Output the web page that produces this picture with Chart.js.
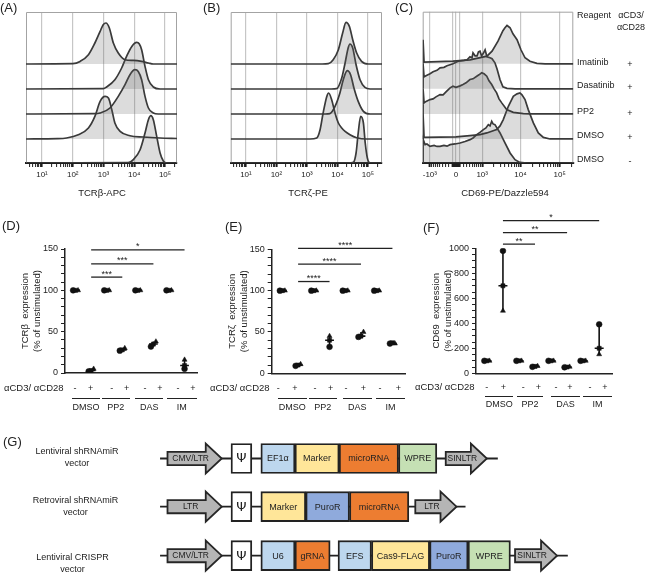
<!DOCTYPE html>
<html>
<head>
<meta charset="utf-8">
<title>TCR expression figure</title>
<script src="https://cdn.jsdelivr.net/npm/chart.js@4.4.1/dist/chart.umd.min.js"></script>
<style>
  body { margin: 0; background: #fff; }
  #fig { position: relative; width: 650px; height: 583px; overflow: hidden;
         font-family: Arial, "Liberation Sans", sans-serif; color: #222; }
  #fig canvas { position: absolute; }
  .lbl { position: absolute; white-space: nowrap; line-height: 1; }
  .rule { position: absolute; height: 0; border-top: 1.3px solid #222; }
</style>
</head>
<body>
<div id="fig">
  <canvas id="histA" width="172" height="198" style="left:14px;top:0"></canvas>
  <canvas id="histB" width="170" height="198" style="left:220px;top:0"></canvas>
  <canvas id="histC" width="165" height="198" style="left:415px;top:0"></canvas>
  <canvas id="dotD" width="206" height="170" style="left:0;top:215px"></canvas>
  <canvas id="dotE" width="206" height="170" style="left:206px;top:215px"></canvas>
  <canvas id="dotF" width="210" height="185" style="left:412px;top:200px"></canvas>
  <canvas id="vectors" width="650" height="158" style="left:0;top:425px"></canvas>
</div>
<script>
// ---------------- histogram data ----------------
// rows from top: Imatinib, Dasatinib, PP2, DMSO (+), DMSO (-)
const histLabels = ["Imatinib", "Dasatinib", "PP2", "DMSO", "DMSO"];
const histStim = ["+", "+", "+", "+", "-"];
const histBaselines = [99, 74, 49, 24, 0];

// TCRb-APC, x = log10 intensity, y = height
const apcImatinib = [[0.48,0],[2.0,0.3],[2.24,2.6],[2.51,9.3],[2.72,21],[2.89,32.6],[2.99,39.3],[3.08,41],[3.19,36],[3.32,21],[3.48,11],[3.7,4.3],[3.97,3.6],[4.24,2.6],[4.46,1],[4.62,0],[5.39,0]];
const apcDasatinib = [[0.48,0],[3.0,0.3],[3.1,2],[3.37,9.3],[3.59,21],[3.75,32.6],[3.92,42.6],[4.08,46.6],[4.16,45.3],[4.24,39.3],[4.35,22.6],[4.46,9.3],[4.62,2],[4.84,0],[5.39,0]];
const apcPP2 = [[0.48,0],[2.7,0.3],[2.89,1],[3.21,6],[3.48,17.6],[3.7,29.3],[3.86,39.3],[4.02,44.3],[4.13,42.6],[4.24,34.3],[4.35,17.6],[4.46,6],[4.62,1],[4.78,0],[5.39,0]];
const apcDmsoStim = [[0.48,0],[1.5,0.3],[1.8,1],[2.18,4.3],[2.51,11],[2.72,22.6],[2.89,37.6],[3.05,42.6],[3.16,41],[3.27,29.3],[3.37,16],[3.54,7.6],[3.86,3.3],[4.29,2],[4.84,1],[5.39,0.5]];
const apcDmsoRest = [[0.48,0],[3.8,0.3],[3.97,3.3],[4.19,13.3],[4.35,30],[4.46,43.3],[4.54,47.3],[4.62,43.3],[4.73,26.6],[4.84,10],[4.95,1.7],[5.06,0],[5.39,0]];

// TCRz-PE
const peImatinib = [[0.5,0],[3.5,0],[3.7,0.3],[3.86,4.3],[4.03,14.3],[4.17,31],[4.28,41.6],[4.39,37.6],[4.5,24.3],[4.63,11],[4.79,2.6],[5.01,0],[5.46,0]];
const peDasatinib = [[0.5,0],[3.8,0],[3.97,0.3],[4.14,11],[4.25,26],[4.35,41],[4.41,45],[4.5,41],[4.61,24.3],[4.74,9.3],[4.9,1.6],[5.07,0],[5.46,0]];
const pePP2 = [[0.5,0],[3.6,0],[3.75,0.3],[3.92,7.6],[4.08,21],[4.19,34.3],[4.32,43.3],[4.43,39.3],[4.54,26],[4.68,12.6],[4.85,2.6],[5.07,0],[5.46,0]];
const peDmsoStim = [[0.5,0],[3.1,0],[3.32,1],[3.43,9.3],[3.53,26],[3.65,42.6],[3.71,46],[3.81,39.3],[3.92,26],[4.03,16],[4.14,11],[4.25,7.6],[4.41,4.3],[4.63,1.3],[4.96,0],[5.46,0]];
const peDmsoRest = [[0.5,0],[4.35,0],[4.52,0.6],[4.61,10],[4.68,30],[4.76,46.6],[4.85,40],[4.91,20],[4.98,5],[5.07,0],[5.46,0]];

// CD69-PE/Dazzle594, x = asinh(intensity / 450)
const cdImatinib = [[-1.94,0],[-1.94,24],[-1.88,1.6],[-0.18,2.6],[0.82,4],[1.82,7.6],[2.12,12.6],[2.47,22.6],[2.76,33],[2.88,36],[3.0,38.3],[3.1,37],[3.18,36],[3.35,30],[3.47,27],[3.59,24],[3.82,14],[4.06,6],[4.35,2.6],[4.76,0.5],[5.24,0],[6.9,0]];
const cdDasatinib = [[-1.94,0],[-1.94,25],[-1.88,12],[-1.71,13.5],[-1.53,15],[-1.35,17],[-1.12,18.5],[-0.94,21],[-0.71,21.5],[-0.53,23],[-0.35,24],[-0.18,25],[0.06,27],[0.24,28],[0.47,28.5],[0.65,29],[0.82,32],[0.94,31],[1.0,36],[1.12,33],[1.24,33],[1.32,37],[1.41,37.6],[1.5,33],[1.59,35],[1.71,39],[1.82,32],[2.0,31],[2.12,30],[2.29,26],[2.41,20],[2.59,9],[2.76,2],[3.0,0.5],[3.47,0],[6.9,0]];
const cdPP2 = [[-1.94,0],[-1.94,25],[-1.88,11],[-1.76,12.5],[-1.53,14.3],[-1.35,15],[-1.18,17],[-0.94,19.3],[-0.76,19],[-0.59,22],[-0.35,26],[-0.18,27.6],[0,26.5],[0.24,28],[0.41,29.3],[0.59,31],[0.82,34.3],[1.0,35],[1.22,37.6],[1.35,39],[1.51,41],[1.65,40],[1.81,37.6],[1.94,33],[2.1,29.3],[2.24,25],[2.39,21],[2.53,15],[2.69,11],[2.98,4.3],[3.37,1.6],[3.96,0.3],[4.35,0],[6.9,0]];
const cdDmsoStim = [[-1.94,0],[-1.94,25],[-1.88,1.6],[-0.94,1.8],[0,2],[0.82,3.3],[1.41,4.3],[1.81,6],[2.06,7.5],[2.39,9.3],[2.59,13],[2.78,19.3],[3.08,32.6],[3.37,42.6],[3.59,45],[3.76,46],[3.88,44],[4.06,39.3],[4.25,29.3],[4.55,16],[4.84,6],[5.14,1.6],[5.53,0],[6.9,0]];
const cdDmsoRest = [[-1.94,0],[-1.94,24],[-1.82,18.3],[-1.71,19],[-1.53,16.6],[-1.29,17.5],[-1.12,16.5],[-0.94,16.6],[-0.71,17.5],[-0.53,16.8],[-0.35,18.3],[-0.06,19],[0.24,20],[0.53,21.5],[0.82,23.3],[1.0,25],[1.22,28.3],[1.41,30.5],[1.61,33.3],[1.76,35],[1.9,38.3],[2.0,37],[2.1,41.6],[2.18,39],[2.29,38.3],[2.59,30],[2.88,20],[3.18,10],[3.47,3.3],[3.76,0.6],[4.16,0],[6.9,0]];

// CD69 axis ticks (raw intensity)
const cdTickValues = [-1000, 0, 1000, 10000, 100000];
const cdTickLabels = ["-10³", "0", "10³", "10⁴", "10⁵"];
const cdGridValues = [-1000, -100, 0, 100, 1000, 10000, 100000];

// ---------------- dot plot data ----------------
const groupNames = ["DMSO", "PP2", "DAS", "IM"];
const stimSigns = ["-", "+"];
// 8 conditions (DMSO-, DMSO+, PP2-, PP2+, DAS-, DAS+, IM-, IM+), 3 replicates each
const tcrbValues = [[100,100,100],[2,3,5],[100,100,100],[27,28,30],[100,100,100],[32,35,38],[100,100,100],[5,9,16]];
const tcrzValues = [[100,100,100],[9,10,11],[100,100,100],[32,40,45],[100,100,100],[44,45,50],[100,100,100],[36,37,36]];
const cd69Values = [[100,100,100],[980,700,500],[100,100,100],[52,55,58],[100,100,100],[48,50,52],[100,100,100],[392,200,152]];
// significance bars: [from condition, to condition, height, label]
const tcrbSig = [[2,4,116,"***"],[2,6,132,"***"],[2,8,149,"*"]];
const tcrzSig = [[2,4,111,"****"],[2,6,132,"****"],[2,8,151,"****"]];
const cd69Sig = [[2,4,1034,"**"],[2,6,1125,"**"],[2,8,1221,"*"]];

// ---------------- vector schematics ----------------
const constructTitles = [["Lentiviral shRNAmiR", "vector"], ["Retroviral shRNAmiR", "vector"], ["Lentiviral CRISPR", "vector"]];
const constructTracks = [0, 55, 111];

const lentiShName = ["CMV/LTR", "Ψ", "EF1α", "Marker", "microRNA", "WPRE", "SINLTR"];
const lentiShKind = ["ltr", "psi", "promoter", "marker", "rna", "wpre", "ltr"];
const lentiShStart = [145, 217.6, 251.7, 290.7, 341.2, 409, 463];
const lentiShEnd = [207, 241.4, 290.7, 341.2, 409, 452.8, 510];
const lentiShSpan = [136.5, 522.5];

const retroShName = ["LTR", "Ψ", "Marker", "PuroR", "microRNA", "LTR"];
const retroShKind = ["ltr", "psi", "marker", "puro", "rna", "ltr"];
const retroShStart = [145, 217.6, 251.7, 303, 353, 428.2];
const retroShEnd = [207, 241.4, 303, 353, 420.8, 475.3];
const retroShSpan = [136.5, 485.6];

const crisprName = ["CMV/LTR", "Ψ", "U6", "gRNA", "EFS", "Cas9-FLAG", "PuroR", "WPRE", "SINLTR"];
const crisprKind = ["ltr", "psi", "promoter", "rna", "promoter", "marker", "puro", "wpre", "ltr"];
const crisprStart = [145, 217.6, 251.7, 290.7, 339.9, 378.1, 444.6, 488.5, 542.2];
const crisprEnd = [207, 241.4, 290.7, 330.9, 378.1, 444.6, 488.5, 536.9, 590.2];
const crisprSpan = [136.5, 602.5];

// ---------------- styling ----------------
Chart.defaults.font.family = 'Arial, "Liberation Sans", sans-serif';
Chart.defaults.color = "#222";
Chart.defaults.animation = false;

const kindColors = { psi: "#ffffff", promoter: "#bdd7ee", marker: "#ffe699", rna: "#ed7d31", wpre: "#c5e0b4", puro: "#8faadc" };
const markerStyles = ["circle", "rect", "triangle"];
const jitter = [-0.16, 0, 0.16];
const sup = ["⁰", "¹", "²", "³", "⁴", "⁵"];

// grey frame on top/left/right of histogram plots
const framePlugin = {
  id: "frame",
  beforeDatasetsDraw(chart, args, opts) {
    if (!opts.color) return;
    const { ctx, chartArea: a } = chart;
    ctx.save();
    ctx.strokeStyle = opts.color;
    ctx.lineWidth = 1;
    ctx.beginPath();
    ctx.moveTo(a.left + 0.5, a.bottom);
    ctx.lineTo(a.left + 0.5, a.top + 0.5);
    ctx.lineTo(a.right - 0.5, a.top + 0.5);
    ctx.lineTo(a.right - 0.5, a.bottom);
    ctx.stroke();
    ctx.restore();
  }
};

// asterisks above significance bars
const starsPlugin = {
  id: "stars",
  afterDatasetsDraw(chart, args, opts) {
    if (!opts.bars) return;
    const { ctx, scales: { x, y } } = chart;
    ctx.save();
    ctx.fillStyle = "#222";
    ctx.font = '9px Arial, "Liberation Sans", sans-serif';
    ctx.textAlign = "center";
    ctx.textBaseline = "alphabetic";
    opts.bars.forEach(b => {
      const cx = (x.getPixelForValue(b[0]) + x.getPixelForValue(b[1])) / 2;
      ctx.fillText(b[3], cx, y.getPixelForValue(b[2]) - 0.5);
    });
    ctx.restore();
  }
};

function logTicks(min, max) {
  const out = [];
  for (let n = 0; n <= 5; n++) {
    if (n >= min && n <= max) out.push(n);
    for (let k = 2; k <= 9; k++) {
      const v = n + Math.log10(k);
      if (v >= min && v <= max) out.push(v);
    }
  }
  return out;
}

function drawHistogram(id, curves, xMin, xMax, tickValues, isGrid, labelFor, smooth, pad) {
  new Chart(document.getElementById(id), {
    type: "line",
    data: {
      datasets: curves.map((curve, i) => ({
        data: curve.map(p => ({ x: p[0], y: p[1] + histBaselines[i] })),
        fill: { value: histBaselines[i] },
        borderColor: "#3a3a3a",
        borderWidth: 1.7,
        backgroundColor: "rgba(95,95,95,0.22)",
        pointRadius: 0,
        cubicInterpolationMode: smooth ? "monotone" : "default",
        tension: 0
      }))
    },
    options: {
      responsive: false,
      layout: { padding: pad },
      plugins: { legend: { display: false }, tooltip: { enabled: false }, frame: { color: "#a3a3a3" } },
      scales: {
        x: {
          type: "linear", min: xMin, max: xMax,
          afterBuildTicks: s => { s.ticks = tickValues.map(v => ({ value: v })); },
          afterFit: s => { s.height = 35; },
          ticks: { autoSkip: false, maxRotation: 0, padding: 3, font: { size: 8 }, color: "#222",
                   callback: v => labelFor(v) },
          grid: {
            color: c => (c.tick && isGrid(c.tick.value)) ? "#c6c6c6" : "rgba(0,0,0,0)",
            lineWidth: 1.2,
            tickColor: "#1e1e1e",
            tickLength: 4,
            tickWidth: c => (c.tick && isGrid(c.tick.value)) ? 2 : 1
          },
          border: { color: "#1e1e1e", width: 2 }
        },
        y: { display: false, min: 0, max: 151 }
      }
    },
    plugins: [framePlugin]
  });
}

function drawDotPlot(id, values, yMax, yStep, labelStep, sigBars, title, axisWidth, titlePad, pad) {
  const medians = values.map(g => [...g].sort((a, b) => a - b)[1]);
  const crowded = g => (Math.max(...g) - Math.min(...g)) / yMax < 0.06;
  const datasets = [];
  markerStyles.forEach((shape, r) => {
    datasets.push({
      type: "scatter",
      data: values.map((g, i) => ({ x: i + 1 + (crowded(g) ? jitter[r] : 0), y: g[r] })),
      pointStyle: shape, pointRadius: 2.9, pointBackgroundColor: "#111", pointBorderColor: "#111",
      pointBorderWidth: 0.5, order: 1
    });
  });
  const medLine = [], rangeLine = [];
  values.forEach((g, i) => {
    medLine.push({ x: i + 0.72, y: medians[i] }, { x: i + 1.28, y: medians[i] }, { x: i + 1, y: null });
    rangeLine.push({ x: i + 1, y: Math.min(...g) }, { x: i + 1, y: Math.max(...g) }, { x: i + 1, y: null });
  });
  [medLine, rangeLine].forEach(d => datasets.push({
    type: "scatter", data: d, showLine: true, spanGaps: false, pointRadius: 0,
    borderColor: "#111", borderWidth: 1.6, order: 2
  }));
  sigBars.forEach(b => datasets.push({
    type: "scatter", data: [{ x: b[0], y: b[2] }, { x: b[1], y: b[2] }], showLine: true,
    pointRadius: 0, borderColor: "#222", borderWidth: 1.3, clip: false, order: 3
  }));
  new Chart(document.getElementById(id), {
    type: "scatter",
    data: { datasets },
    options: {
      responsive: false,
      layout: { padding: pad },
      plugins: { legend: { display: false }, tooltip: { enabled: false }, stars: { bars: sigBars } },
      scales: {
        x: {
          type: "linear", min: 0.32, max: 8.8,
          afterFit: s => { s.height = 0; },
          ticks: { display: false },
          grid: { display: true, drawOnChartArea: false, drawTicks: false },
          border: { color: "#222", width: 1.5 }
        },
        y: {
          min: 0, max: yMax,
          afterFit: s => { s.width = axisWidth; },
          afterBuildTicks: s => {
            const t = [];
            for (let v = 0; v <= yMax; v += yStep) t.push({ value: v });
            s.ticks = t;
          },
          ticks: { autoSkip: false, padding: 3, font: { size: 9 }, color: "#222",
                   callback: v => (v % labelStep === 0 ? String(v) : "") },
          grid: { drawOnChartArea: false, tickLength: 4, tickColor: "#222", tickWidth: 1 },
          border: { color: "#222", width: 1.5 },
          title: { display: true, text: title, color: "#222", font: { size: 9.5, lineHeight: 1.22 },
                   padding: { top: titlePad, bottom: 0 } }
        }
      }
    },
    plugins: [starsPlugin]
  });
}

// ---------------- histograms A, B, C ----------------
const logGrid = v => Math.abs(v - Math.round(v)) < 1e-9;
const logLabel = v => (logGrid(v) && Math.round(v) >= 1 ? "10" + sup[Math.round(v)] : "");

drawHistogram("histA", [apcImatinib, apcDasatinib, apcPP2, apcDmsoStim, apcDmsoRest],
  0.48, 5.39, logTicks(0.48, 5.39), logGrid, logLabel, true, { left: 12, right: 9, top: 12, bottom: 0 });
drawHistogram("histB", [peImatinib, peDasatinib, pePP2, peDmsoStim, peDmsoRest],
  0.5, 5.46, logTicks(0.5, 5.46), logGrid, logLabel, true, { left: 10.7, right: 8, top: 12, bottom: 0 });

const cdT = v => Math.asinh(v / 450);
const cdGridT = cdGridValues.map(cdT);
const cdLabelT = cdTickValues.map(cdT);
const cdMinor = [];
for (let v = -900; v <= -200; v += 100) cdMinor.push(v);
for (let v = -90; v <= 90; v += 10) if (v !== 0) cdMinor.push(v);
for (let v = 200; v <= 900; v += 100) cdMinor.push(v);
for (let v = 2000; v <= 9000; v += 1000) cdMinor.push(v);
for (let v = 20000; v <= 90000; v += 10000) cdMinor.push(v);
cdMinor.push(200000);
const cdTicks = cdGridT.concat(cdMinor.filter(v => cdGridValues.indexOf(v) < 0).map(cdT)).sort((a, b) => a - b);
const near = (list, v) => list.findIndex(g => Math.abs(g - v) < 1e-9);

drawHistogram("histC", [cdImatinib, cdDasatinib, cdPP2, cdDmsoStim, cdDmsoRest],
  -1.96, 6.9, cdTicks, v => near(cdGridT, v) >= 0,
  v => { const i = near(cdLabelT, v); return i >= 0 ? cdTickLabels[i] : ""; },
  false, { left: 7.7, right: 6.7, top: 11.7, bottom: 0 });

// ---------------- dot plots D, E, F ----------------
drawDotPlot("dotD", tcrbValues, 150, 10, 50, tcrbSig, ["TCRβ  expression", "(% of unstimulated)"],
  65, 20, { left: 0, right: 9, top: 34, bottom: 12 });
drawDotPlot("dotE", tcrzValues, 150, 10, 50, tcrzSig, ["TCRζ  expression", "(% of unstimulated)"],
  65.7, 20.8, { left: 0, right: 7, top: 34.3, bottom: 11.7 });
drawDotPlot("dotF", cd69Values, 1000, 50, 200, cd69Sig, ["CD69  expression", "(% of unstimulated)"],
  64, 18.5, { left: 0, right: 10, top: 48.3, bottom: 11.7 });

// ---------------- G: vector maps ----------------
const rows = [
  { name: lentiShName, kind: lentiShKind, start: lentiShStart, end: lentiShEnd, span: lentiShSpan },
  { name: retroShName, kind: retroShKind, start: retroShStart, end: retroShEnd, span: retroShSpan },
  { name: crisprName, kind: crisprKind, start: crisprStart, end: crisprEnd, span: crisprSpan }
];
const boxData = [], boxColors = [], boxLabels = [], arrows = [];
rows.forEach((row, r) => {
  row.name.forEach((n, i) => {
    if (row.kind[i] === "ltr") {
      arrows.push({ label: n, start: row.start[i], end: row.end[i], track: constructTracks[r] });
    } else {
      boxData.push({ x: [row.start[i], row.end[i]], y: constructTracks[r] });
      boxColors.push(kindColors[row.kind[i]]);
      boxLabels.push(n);
    }
  });
});

const vectorPlugin = {
  id: "vectorParts",
  afterDatasetsDraw(chart) {
    const { ctx, scales: { x, y } } = chart;
    ctx.save();
    ctx.textAlign = "center";
    ctx.textBaseline = "middle";
    arrows.forEach(a => {
      const x0 = x.getPixelForValue(a.start), x1 = x.getPixelForValue(a.end);
      const cy = y.getPixelForValue(a.track);
      const head = 16, bh = 6.6, hh = 15;
      ctx.beginPath();
      ctx.moveTo(x0, cy - bh);
      ctx.lineTo(x1 - head, cy - bh);
      ctx.lineTo(x1 - head, cy - hh);
      ctx.lineTo(x1, cy);
      ctx.lineTo(x1 - head, cy + hh);
      ctx.lineTo(x1 - head, cy + bh);
      ctx.lineTo(x0, cy + bh);
      ctx.closePath();
      ctx.fillStyle = "#b5b5b5";
      ctx.fill();
      ctx.lineWidth = 1.8;
      ctx.strokeStyle = "#262626";
      ctx.lineJoin = "miter";
      ctx.stroke();
      ctx.fillStyle = "#222";
      ctx.font = '8.5px Arial, "Liberation Sans", sans-serif';
      ctx.fillText(a.label, (x0 + x1 - head * 0.5) / 2, cy + 0.5);
    });
    const meta = chart.getDatasetMeta(rows.length);
    meta.data.forEach((el, i) => {
      const p = el.getProps(["x", "base", "y"], true);
      ctx.fillStyle = "#222";
      ctx.font = boxLabels[i] === "Ψ" ? '13px "DejaVu Sans", sans-serif'
                                      : '9px Arial, "Liberation Sans", sans-serif';
      ctx.fillText(boxLabels[i], (p.x + p.base) / 2, p.y + 0.5);
    });
    ctx.restore();
  }
};

new Chart(document.getElementById("vectors"), {
  type: "bar",
  data: {
    datasets: rows.map((row, r) => ({
      type: "line",
      data: [{ x: row.span[0], y: constructTracks[r] }, { x: row.span[1], y: constructTracks[r] }],
      borderColor: "#222", borderWidth: 1.8, pointRadius: 0, order: 3
    })).concat([{
      type: "bar",
      indexAxis: "y",
      data: boxData,
      backgroundColor: boxColors,
      borderColor: "#222",
      borderWidth: 1.9,
      borderSkipped: false,
      barThickness: 30,
      order: 1
    }])
  },
  options: {
    responsive: false,
    layout: { padding: 0 },
    plugins: { legend: { display: false }, tooltip: { enabled: false } },
    scales: {
      x: { type: "linear", display: false, min: 0, max: 650 },
      y: { type: "linear", display: false, min: -27, max: 131, reverse: true }
    }
  },
  plugins: [vectorPlugin]
});

// ---------------- text labels ----------------
const fig = document.getElementById("fig");
function addText(str, x, y, size, align) {
  const d = document.createElement("div");
  d.className = "lbl";
  d.textContent = str;
  d.style.left = x + "px";
  d.style.top = y + "px";
  d.style.fontSize = size + "px";
  const tx = align === "left" ? "0" : align === "right" ? "-100%" : "-50%";
  d.style.transform = "translate(" + tx + ",-50%)";
  fig.appendChild(d);
}
function addRule(x1, x2, y) {
  const d = document.createElement("div");
  d.className = "rule";
  d.style.left = x1 + "px";
  d.style.top = y + "px";
  d.style.width = (x2 - x1) + "px";
  fig.appendChild(d);
}

// panel letters
[["(A)", 0, 7], ["(B)", 203, 7], ["(C)", 395, 7], ["(D)", 2, 225], ["(E)", 225, 226], ["(F)", 423, 227], ["(G)", 3, 441]]
  .forEach(p => addText(p[0], p[1], p[2], 13, "left"));

// histogram axis titles
addText("TCRβ-APC", 102, 193, 9.5, "center");
addText("TCRζ-PE", 308, 193, 9.5, "center");
addText("CD69-PE/Dazzle594", 505, 192.5, 9.5, "center");

// C side legend
addText("Reagent", 577, 15, 9, "left");
addText("αCD3/", 631, 15, 9, "center");
addText("αCD28", 631, 27, 9, "center");
const legendY = [62, 84.5, 111, 135, 158.5];
histLabels.forEach((n, i) => {
  addText(n, 577, legendY[i], 9, "left");
  addText(histStim[i], 630, legendY[i] + 2, 9, "center");
});

// dot plot x labels
const dotLayouts = [
  { left: 4, signY: 388, ruleY: 398, nameY: 406.5,
    signX: [75, 90.7, 111.7, 126.7, 145, 160, 178, 193],
    rules: [[72, 100], [101.7, 130], [135, 163.3], [166.7, 196.7]] },
  { left: 210, signY: 388, ruleY: 398, nameY: 406.5,
    signX: [278.3, 295, 315, 330.7, 346, 363.3, 380, 398.3],
    rules: [[278, 306.7], [309, 336.7], [343, 371.7], [376, 405]] },
  { left: 415, signY: 386.5, ruleY: 396, nameY: 404,
    signX: [486.7, 503.3, 523.3, 538.3, 556, 570, 590, 605],
    rules: [[485, 513.3], [516.7, 543.3], [551, 580], [583.3, 611.7]] }
];
dotLayouts.forEach(L => {
  addText("αCD3/ αCD28", L.left, L.signY, 9.5, "left");
  L.signX.forEach((x, i) => addText(stimSigns[i % 2], x, L.signY, 9, "center"));
  L.rules.forEach((r, i) => {
    addRule(r[0], r[1], L.ruleY);
    addText(groupNames[i], (r[0] + r[1]) / 2, L.nameY, 9, "center");
  });
});

// vector names
const titleY = [[451, 463], [500, 512], [557, 569]];
const titleX = [77, 75.5, 72.5];
constructTitles.forEach((t, i) => {
  addText(t[0], titleX[i], titleY[i][0], 9, "center");
  addText(t[1], titleX[i], titleY[i][1], 9, "center");
});
</script>
</body>
</html>
